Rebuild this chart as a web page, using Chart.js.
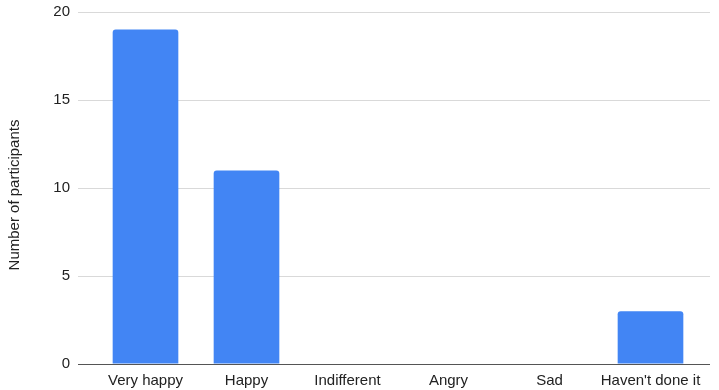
<!DOCTYPE html>
<html>
<head>
<meta charset="utf-8">
<script src="https://cdn.jsdelivr.net/npm/chart.js@4/dist/chart.umd.min.js"></script>
<style>
  html, body { margin: 0; padding: 0; background: #fff; }
  #wrap { width: 719px; height: 390px; position: relative; }
</style>
</head>
<body>
<div id="wrap"><canvas id="c" width="719" height="390"></canvas></div>
<script>
const categories = ['Very happy', 'Happy', 'Indifferent', 'Angry', 'Sad', "Haven't done it"];
const participants = [19, 11, 0, 0, 0, 3];
const yTicks = [0, 5, 10, 15, 20];
const yTitle = 'Number of participants';

const FONT = '"Liberation Sans", Arial, sans-serif';

// Horizontal gridlines and baseline spanning the full plot width,
// plus the rotated y-axis title
const gridPlugin = {
  id: 'wideGrid',
  beforeDatasetsDraw(chart) {
    const { ctx } = chart;
    const y = chart.scales.y;
    ctx.save();
    ctx.lineWidth = 1;
    ctx.strokeStyle = '#d9d9d9';
    yTicks.forEach(v => {
      if (v === 0) return;
      const py = Math.round(y.getPixelForValue(v)) + 0.5;
      ctx.beginPath();
      ctx.moveTo(78, py);
      ctx.lineTo(710, py);
      ctx.stroke();
    });
    ctx.restore();
  },
  afterDatasetsDraw(chart) {
    const { ctx } = chart;
    const y = chart.scales.y;
    const py = Math.round(y.getPixelForValue(0)) + 0.5;
    ctx.save();
    ctx.lineWidth = 1;
    ctx.strokeStyle = '#555';
    ctx.beginPath();
    ctx.moveTo(78, py);
    ctx.lineTo(710, py);
    ctx.stroke();
    ctx.restore();
  },
  afterDraw(chart) {
    const { ctx } = chart;
    const y = chart.scales.y;
    const cy = (y.top + y.bottom) / 2 + 7;
    ctx.save();
    ctx.translate(15, cy);
    ctx.rotate(-Math.PI / 2);
    ctx.font = '15px ' + FONT;
    ctx.fillStyle = '#222';
    ctx.textAlign = 'center';
    ctx.textBaseline = 'middle';
    ctx.fillText(yTitle, 0, 0);
    ctx.restore();
  }
};

new Chart(document.getElementById('c'), {
  type: 'bar',
  data: {
    labels: categories,
    datasets: [{
      data: participants,
      backgroundColor: '#4285F4',
      borderRadius: { topLeft: 3, topRight: 3, bottomLeft: 0, bottomRight: 0 },
      borderSkipped: 'bottom',
      categoryPercentage: 1,
      barPercentage: 0.65
    }]
  },
  options: {
    responsive: false,
    animation: false,
    devicePixelRatio: 1,
    layout: { padding: { top: 12, right: 18, bottom: 0, left: 0 } },
    plugins: { legend: { display: false }, tooltip: { enabled: false } },
    scales: {
      x: {
        grid: { display: false, drawTicks: false },
        border: { display: false },
        ticks: { color: '#222', font: { family: FONT, size: 15 }, padding: 8, maxRotation: 0, autoSkip: false },
        afterFit(scale) { scale.height = 26; }
      },
      y: {
        min: 0,
        max: 20,
        afterBuildTicks(scale) { scale.ticks = yTicks.map(v => ({ value: v })); },
        grid: { color: 'transparent', drawTicks: true, tickLength: 25 },
        border: { display: false },
        ticks: { color: '#222', font: { family: FONT, size: 15 }, padding: 0 },
        title: { display: false },
        afterFit(scale) { scale.width = 95; }
      }
    }
  },
  plugins: [gridPlugin]
});
</script>
</body>
</html>
